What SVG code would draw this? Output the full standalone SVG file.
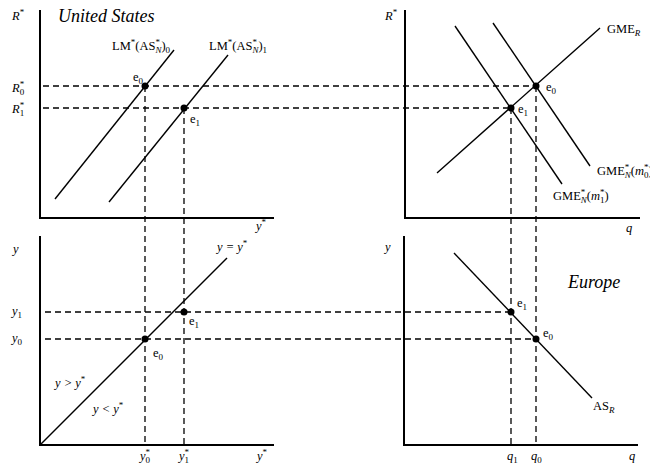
<svg xmlns="http://www.w3.org/2000/svg" width="650" height="464" viewBox="0 0 650 464">
<style>
.ax{stroke:#000;stroke-width:2;fill:none}
.cv{stroke:#000;stroke-width:1.4;fill:none}
.ds{stroke:#000;stroke-width:1.3;fill:none;stroke-dasharray:6,4}
.t{font-family:"Liberation Serif","Times New Roman",serif;font-size:12.5px;fill:#000}
.i{font-style:italic}
.n{font-style:normal}
.s{font-size:9px}
.big{font-family:"Liberation Serif","Times New Roman",serif;font-size:18px;font-style:italic;fill:#000}
</style>
<rect width="650" height="464" fill="#fff"/>
<g id="guides">
<path class="ds" d="M43 86H536M43 108H511M45 312H511M45 339H536"/>
<path class="ds" d="M145 86V445M184 108V445M511 108V445M536 86V445"/>
</g>
<g id="axes">
<path class="ax" d="M40 10V218H274"/>
<path class="ax" d="M405 10V218H640"/>
<path class="ax" d="M40 236V445H274"/>
<path class="ax" d="M404 236V445H638"/>
</g>
<g id="connectors">
<path class="cv" d="M55 199L174 50"/>
<path class="cv" d="M109 202L228 55"/>
<path class="cv" d="M437 173L600 28"/>
<path class="cv" d="M455 26L562 184"/>
<path class="cv" d="M493 23L590 166"/>
<path class="cv" d="M40 445L227 258"/>
<path class="cv" d="M454 253L592 398"/>
</g>
<g id="points">
<circle cx="145" cy="86" r="3.5"/>
<circle cx="184" cy="108" r="3.5"/>
<circle cx="536" cy="86" r="3.5"/>
<circle cx="511" cy="108" r="3.5"/>
<circle cx="145" cy="339" r="3.5"/>
<circle cx="184" cy="312" r="3.5"/>
<circle cx="511" cy="312" r="3.5"/>
<circle cx="536" cy="339" r="3.5"/>
</g>
<g id="panel-us">
<text class="big" x="58" y="22">United States</text>
<text class="t i" x="12" y="20">R<tspan class="s n" dy="-5">*</tspan></text>
<text class="t i" x="12" y="92">R<tspan class="s n" dy="-5">*</tspan><tspan class="s n" dx="-4.5" dy="8">0</tspan></text>
<text class="t i" x="12" y="113">R<tspan class="s n" dy="-5">*</tspan><tspan class="s n" dx="-4.5" dy="8">1</tspan></text>
<text class="t" x="112" y="50">LM<tspan class="s" dy="-5">*</tspan><tspan dy="5">(AS</tspan><tspan class="s" dy="-5">*</tspan><tspan class="s i" dx="-4.5" dy="8">N</tspan><tspan dy="-3">)</tspan><tspan class="s" dy="3">0</tspan></text>
<text class="t" x="209" y="50">LM<tspan class="s" dy="-5">*</tspan><tspan dy="5">(AS</tspan><tspan class="s" dy="-5">*</tspan><tspan class="s i" dx="-4.5" dy="8">N</tspan><tspan dy="-3">)</tspan><tspan class="s" dy="3">1</tspan></text>
<text class="t" x="133" y="81">e<tspan class="s" dy="3">0</tspan></text>
<text class="t" x="190" y="123">e<tspan class="s" dy="3">1</tspan></text>
<text class="t i" x="256" y="230">y<tspan class="s n" dy="-5">*</tspan></text>
</g>
<g id="panel-gme">
<text class="t i" x="385" y="20">R<tspan class="s n" dy="-5">*</tspan></text>
<text class="t" x="607" y="33">GME<tspan class="s i" dy="3">R</tspan></text>
<text class="t" x="597" y="175">GME<tspan class="s" dy="-5">*</tspan><tspan class="s i" dx="-4.5" dy="8">N</tspan><tspan dy="-3">(</tspan><tspan class="i">m</tspan><tspan class="s" dy="-5">*</tspan><tspan class="s" dx="-4.5" dy="8">0</tspan><tspan dy="-3">)</tspan></text>
<text class="t" x="553" y="200">GME<tspan class="s" dy="-5">*</tspan><tspan class="s i" dx="-4.5" dy="8">N</tspan><tspan dy="-3">(</tspan><tspan class="i">m</tspan><tspan class="s" dy="-5">*</tspan><tspan class="s" dx="-4.5" dy="8">1</tspan><tspan dy="-3">)</tspan></text>
<text class="t" x="546" y="91">e<tspan class="s" dy="3">0</tspan></text>
<text class="t" x="518" y="113">e<tspan class="s" dy="3">1</tspan></text>
<text class="t i" x="626" y="232">q</text>
</g>
<g id="panel-y">
<text class="t i" x="13" y="253">y</text>
<text class="t i" x="12" y="315">y<tspan class="s n" dy="3">1</tspan></text>
<text class="t i" x="12" y="342">y<tspan class="s n" dy="3">0</tspan></text>
<text class="t i" x="217" y="251">y = y<tspan class="s n" dy="-5">*</tspan></text>
<text class="t" x="189" y="325">e<tspan class="s" dy="3">1</tspan></text>
<text class="t" x="153" y="357">e<tspan class="s" dy="3">0</tspan></text>
<text class="t i" x="55" y="387">y &gt; y<tspan class="s n" dy="-5">*</tspan></text>
<text class="t i" x="93" y="413">y &lt; y<tspan class="s n" dy="-5">*</tspan></text>
<text class="t i" x="140" y="460">y<tspan class="s n" dy="-5">*</tspan><tspan class="s n" dx="-4.5" dy="8">0</tspan></text>
<text class="t i" x="179" y="460">y<tspan class="s n" dy="-5">*</tspan><tspan class="s n" dx="-4.5" dy="8">1</tspan></text>
<text class="t i" x="257" y="460">y<tspan class="s n" dy="-5">*</tspan></text>
</g>
<g id="panel-europe">
<text class="t i" x="385" y="251">y</text>
<text class="big" x="568" y="288">Europe</text>
<text class="t" x="517" y="307">e<tspan class="s" dy="3">1</tspan></text>
<text class="t" x="543" y="337">e<tspan class="s" dy="3">0</tspan></text>
<text class="t" x="593" y="410">AS<tspan class="s i" dy="3">R</tspan></text>
<text class="t i" x="507" y="460">q<tspan class="s n" dy="3">1</tspan></text>
<text class="t i" x="531" y="460">q<tspan class="s n" dy="3">0</tspan></text>
<text class="t i" x="629" y="460">q</text>
</g>
</svg>
